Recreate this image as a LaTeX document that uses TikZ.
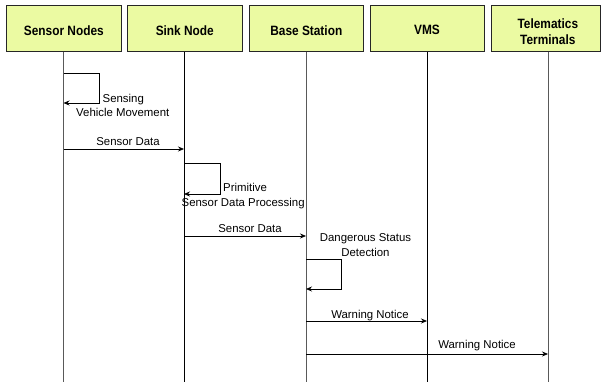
\documentclass[tikz,border=0pt]{standalone}
\usepackage{fontspec}
\setmainfont{Liberation Sans}
\usetikzlibrary{arrows.meta}
\definecolor{boxfill}{RGB}{235,250,162}
\newcommand{\hdrsq}[1]{\scalebox{0.88}[1]{#1}}
\begin{document}
\begin{tikzpicture}[x=1pt,y=-1pt,
  hdrbox/.style={draw=black!85, fill=boxfill, line width=0.8pt, minimum height=46.7pt, inner sep=0pt},
  hdrtext/.style={font=\fontsize{13.5}{15.3}\selectfont\bfseries, align=center, inner sep=0pt},
  msg/.style={line width=0.7pt, -{Stealth[length=6pt,width=5pt]}},
  lbl/.style={font=\fontsize{11.4}{13}\selectfont, inner sep=0pt},
  life/.style={line width=0.8pt, draw=black!65}]
\useasboundingbox (0,0) rectangle (602,382);
% header boxes
\node[hdrbox, minimum width=115.7pt] (b1) at (63.85,28.35) {};
\node[hdrbox, minimum width=115pt] (b2) at (184.8,28.35) {};
\node[hdrbox, minimum width=114pt] (b3) at (306.3,28.35) {};
\node[hdrbox, minimum width=114pt] (b4) at (427,28.35) {};
\node[hdrbox, minimum width=108.3pt] (b5) at (545.85,28.35) {};
\node[hdrtext] (t1) at ([yshift=-2pt]b1.center) {\hdrsq{Sensor Nodes}};
\node[hdrtext] (t2) at ([yshift=-2pt]b2.center) {\hdrsq{Sink Node}};
\node[hdrtext] (t3) at ([yshift=-2pt]b3.center) {\hdrsq{Base Station}};
\node[hdrtext] (t4) at ([yshift=-2pt]b4.center) {\hdrsq{VMS}};
\node[hdrtext] (t5) at ([xshift=2pt,yshift=-3.3pt]b5.center) {\hdrsq{Telematics}\\\hdrsq{Terminals}};
% lifelines
\coordinate (L1t) at (63.5,51.7);  \coordinate (L1b) at (63.5,382);
\coordinate (L2t) at (184,51.7); \coordinate (L2b) at (184,382);
\coordinate (L3t) at (306,51.7); \coordinate (L3b) at (306,382);
\coordinate (L4t) at (427,51.7); \coordinate (L4b) at (427,382);
\coordinate (L5t) at (548,51.7); \coordinate (L5b) at (548,382);
\draw[life] (L1t) -- (L1b);
\draw[life, draw=black] (L2t) -- (L2b);
\draw[life] (L3t) -- (L3b);
\draw[life, draw=black] (L4t) -- (L4b);
\draw[life] (L5t) -- (L5b);
% sensing self message
\coordinate (s1a) at (63.5,73); \coordinate (s1b) at (63.5,103);
\draw[msg] (s1a) -- ++(36,0) |- (s1b);
\node[lbl, anchor=base west] (sense1) at (102.5,103) {Sensing};
\node[lbl, anchor=base west] (sense2) at (76,117) {Vehicle Movement};
% sensor data 1
\coordinate (m1a) at (63.5,149); \coordinate (m1b) at (184,149);
\draw[msg] (m1a) -- (m1b);
\node[lbl, anchor=base] (m1l) at (128,146) {Sensor Data};
% primitive processing
\coordinate (s2a) at (184,163); \coordinate (s2b) at (184,194);
\draw[msg] (s2a) -- ++(36,0) |- (s2b);
\node[lbl, anchor=base west] (prim1) at (223,191.5) {Primitive};
\node[lbl, anchor=base west] (prim2) at (181.5,206.7) {Sensor Data Processing};
% sensor data 2
\coordinate (m2a) at (184,236); \coordinate (m2b) at (306,236);
\draw[msg] (m2a) -- (m2b);
\node[lbl, anchor=base] (m2l) at (250,233) {Sensor Data};
% dangerous status detection
\node[lbl, anchor=base] (dang1) at (365.5,241.3) {Dangerous Status};
\node[lbl, anchor=base] (dang2) at (365.5,256.7) {Detection};
\coordinate (s3a) at (306,259); \coordinate (s3b) at (306,289);
\draw[msg] (s3a) -- ++(35,0) |- (s3b);
% warning notices
\coordinate (m3a) at (306,321); \coordinate (m3b) at (427,321);
\draw[msg] (m3a) -- (m3b);
\node[lbl, anchor=base] (m3l) at (370,318) {Warning Notice};
\coordinate (m4a) at (306,354); \coordinate (m4b) at (548,354);
\draw[msg] (m4a) -- (m4b);
\node[lbl, anchor=base] (m4l) at (477,348.3) {Warning Notice};
\end{tikzpicture}
\end{document}
